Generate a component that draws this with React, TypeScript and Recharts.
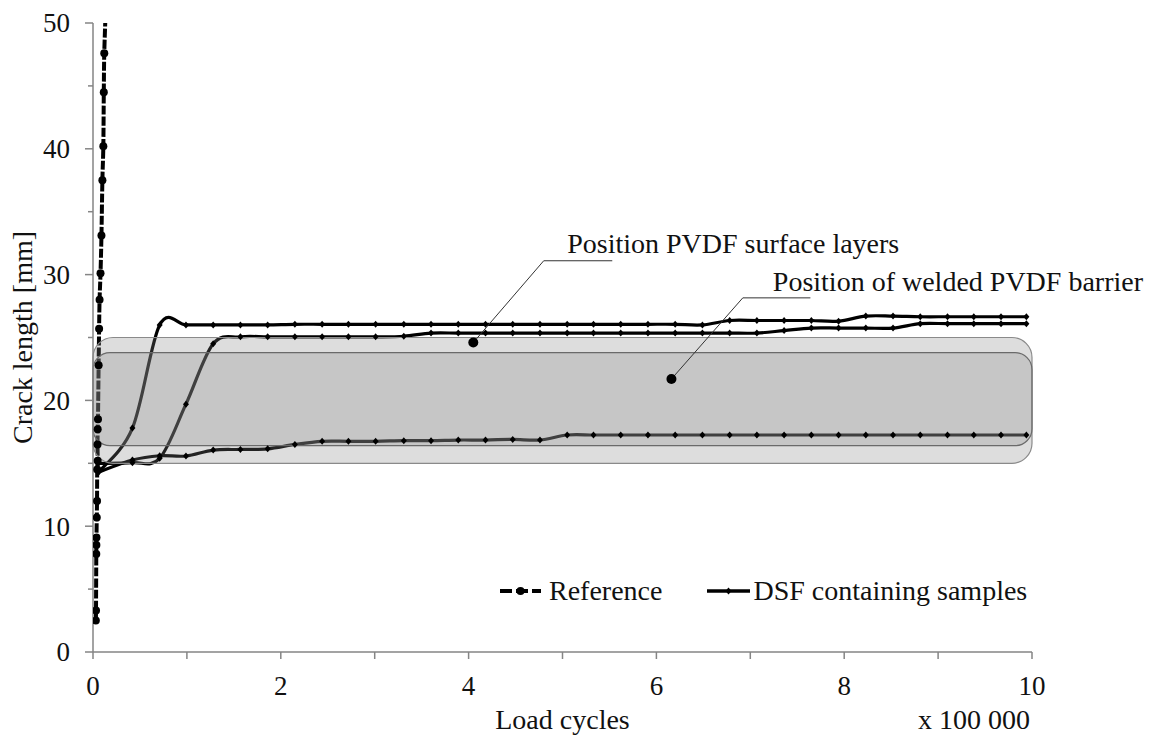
import React from 'react';
import { LineChart, Line, XAxis, YAxis, ReferenceArea, ReferenceLine, ReferenceDot, Legend } from 'recharts';

const FONT = "'Liberation Serif', 'DejaVu Serif', 'Times New Roman', serif";
const AXIS_GREY = '#858585';
const INK = '#111111';

// Reference specimen, load cycles in units of 100 000, crack length in mm
const refCycles = [0.03, 0.032, 0.035, 0.036, 0.037, 0.04, 0.043, 0.045, 0.05, 0.048, 0.05, 0.053, 0.06, 0.065, 0.07, 0.08, 0.09, 0.1, 0.11, 0.115, 0.12, 0.135];
const refCrack = [2.5, 3.3, 7.8, 8.5, 9.1, 10.7, 12.0, 14.5, 15.2, 16.5, 17.7, 18.5, 22.8, 25.7, 28.0, 30.1, 33.1, 37.5, 40.2, 44.5, 47.6, 51];

// DSF samples share the same read-out cycles
const dsfCycles = [0.06, 0.42, 0.71, 0.99, 1.28, 1.57, 1.86, 2.15, 2.44, 2.72, 3.01, 3.31, 3.6, 3.89, 4.18, 4.47, 4.76, 5.05, 5.33, 5.62, 5.91, 6.2, 6.49, 6.78, 7.07, 7.36, 7.65, 7.94, 8.23, 8.52, 8.81, 9.1, 9.38, 9.67, 9.94];
const dsfSampleA = [14.3, 17.8, 26.0, 26.0, 26.0, 26.0, 26.0, 26.05, 26.05, 26.05, 26.05, 26.05, 26.05, 26.05, 26.05, 26.05, 26.05, 26.05, 26.05, 26.05, 26.05, 26.05, 26.0, 26.35, 26.35, 26.35, 26.35, 26.3, 26.7, 26.7, 26.65, 26.65, 26.65, 26.65, 26.65];
const dsfSampleB = [15.0, 15.05, 15.4, 19.7, 24.5, 25.05, 25.05, 25.05, 25.05, 25.05, 25.05, 25.1, 25.35, 25.35, 25.35, 25.35, 25.35, 25.35, 25.35, 25.35, 25.35, 25.35, 25.35, 25.35, 25.35, 25.55, 25.75, 25.75, 25.75, 25.75, 26.1, 26.1, 26.1, 26.1, 26.1];
const dsfSampleC = [14.3, 15.26, 15.6, 15.58, 16.05, 16.1, 16.15, 16.5, 16.75, 16.75, 16.75, 16.8, 16.8, 16.85, 16.85, 16.9, 16.85, 17.25, 17.25, 17.25, 17.25, 17.25, 17.25, 17.25, 17.25, 17.25, 17.25, 17.25, 17.25, 17.25, 17.25, 17.25, 17.25, 17.25, 17.25];

const xTicks = [0, 1, 2, 3, 4, 5, 6, 7, 8, 9, 10];
const yTicks = [0, 5, 10, 15, 20, 25, 30, 35, 40, 45, 50];

// PVDF zones (mm)
const surfaceLayerBand = [15, 25];
const barrierBand = [16.4, 23.8];

const legendLabels = ['Reference', 'DSF containing samples'];

const annotationText = ['Position PVDF surface layers', 'Position of welded PVDF barrier'];
const annotationDot = [[4.05, 24.6], [6.16, 21.7]];
const annotationElbow = [[4.8, 31.1], [6.92, 28.15]];
const annotationLineEnd = [[5.53, 31.1], [7.64, 28.15]];
const annotationTextAt = [[5.05, 31.75], [7.24, 28.7]];

const toPoints = (xs: number[], ys: number[]) => xs.map((c, i) => ({ cycles: c, crack: ys[i] }));
const referenceData = toPoints(refCycles, refCrack);
const sampleA = toPoints(dsfCycles, dsfSampleA);
const sampleB = toPoints(dsfCycles, dsfSampleB);
const sampleC = toPoints(dsfCycles, dsfSampleC);

// catmull-rom style smoothing, close to Excel's "smoothed line"
function smoothCurve(context: any) {
  let pts: number[][] = [];
  return {
    areaStart() {},
    areaEnd() {},
    lineStart() { pts = []; },
    point(x: number, y: number) { pts.push([x, y]); },
    lineEnd() {
      if (!pts.length) return;
      context.moveTo(pts[0][0], pts[0][1]);
      for (let i = 0; i < pts.length - 1; i++) {
        const p0 = pts[i - 1] || pts[i];
        const p1 = pts[i];
        const p2 = pts[i + 1];
        const p3 = pts[i + 2] || p2;
        context.bezierCurveTo(
          p1[0] + (p2[0] - p0[0]) / 6, p1[1] + (p2[1] - p0[1]) / 6,
          p2[0] - (p3[0] - p1[0]) / 6, p2[1] - (p3[1] - p1[1]) / 6,
          p2[0], p2[1],
        );
      }
    },
  };
}

const roundDot = (p: any) => (
  <circle key={`r-${p.index}`} cx={p.cx} cy={p.cy} r={4} fill="#000" />
);

const diamondDot = (p: any) => (
  <path key={`d-${p.index}`} d={`M${p.cx},${p.cy - 3.5}L${p.cx + 3},${p.cy}L${p.cx},${p.cy + 3.5}L${p.cx - 3},${p.cy}Z`} fill="#000" />
);

const band = (fill: string, opacity: number, stroke: string, radius: number) => (p: any) => (
  <rect x={p.x} y={p.y} width={p.width} height={p.height} rx={radius} ry={radius}
    fill={fill} fillOpacity={opacity} stroke={stroke} strokeWidth={1.2} />
);

function CrackTick(props: any) {
  const { x, y, payload } = props;
  const axisX = x + 23;
  const major = payload.value % 10 === 0;
  return (
    <g>
      <line x1={axisX - (major ? 8 : 5)} x2={axisX} y1={y} y2={y} stroke={AXIS_GREY} strokeWidth={1.5} />
      {major && (
        <text x={x} y={y} dy="0.35em" textAnchor="end" fontFamily={FONT} fontSize={27} fill={INK}>
          {payload.value}
        </text>
      )}
    </g>
  );
}

function LegendBox() {
  return (
    <div style={{ display: 'flex', alignItems: 'center', fontFamily: FONT, fontSize: 28, color: INK, lineHeight: '32px', whiteSpace: 'nowrap' }}>
      {legendLabels.map((label, i) => (
        <div key={label} style={{ display: 'flex', alignItems: 'center', marginLeft: i ? 45 : 0 }}>
          <svg width={43} height={16} style={{ marginRight: i ? 3 : 6 }}>
            {i === 0 ? (
              <g>
                <line x1={0} x2={41} y1={8} y2={8} stroke="#000" strokeWidth={4} strokeDasharray="12 4" />
                <circle cx={20.5} cy={8} r={4} fill="#000" />
              </g>
            ) : (
              <g>
                <line x1={0} x2={43} y1={8} y2={8} stroke="#000" strokeWidth={3.5} />
                <path d="M21.5,4.5L24.5,8L21.5,11.5L18.5,8Z" fill="#000" />
              </g>
            )}
          </svg>
          <span>{label}</span>
        </div>
      ))}
    </div>
  );
}

export default function App() {
  return (
    <div style={{ position: 'absolute', left: 0, top: 0, background: '#fff' }}>
      <LineChart width={1155} height={738} margin={{ top: 23, right: 123, bottom: 0, left: 0 }}>
        <XAxis
          type="number"
          dataKey="cycles"
          domain={[0, 10]}
          ticks={xTicks}
          interval={0}
          allowDataOverflow
          height={86}
          tickSize={7}
          tickMargin={17}
          tickFormatter={(v: number) => (v % 2 === 0 ? String(v) : '')}
          tick={{ fontFamily: FONT, fontSize: 27, fill: INK }}
          axisLine={{ stroke: AXIS_GREY, strokeWidth: 1.5 }}
          tickLine={{ stroke: AXIS_GREY, strokeWidth: 1.5 }}
          label={(p: any) => {
            const vb = p.viewBox || { x: 93, y: 652, width: 939, height: 86 };
            return (
              <g>
                <text x={vb.x + vb.width / 2} y={vb.y + 77} textAnchor="middle" fontFamily={FONT} fontSize={28} fill={INK}>Load cycles</text>
                <text x={vb.x + vb.width - 2} y={vb.y + 77} textAnchor="end" fontFamily={FONT} fontSize={28} fill={INK}>x 100 000</text>
              </g>
            );
          }}
        />
        <YAxis
          type="number"
          dataKey="crack"
          domain={[0, 50]}
          ticks={yTicks}
          interval={0}
          allowDataOverflow
          width={93}
          tickSize={8}
          tickMargin={15}
          tickLine={false}
          tick={<CrackTick />}
          axisLine={{ stroke: AXIS_GREY, strokeWidth: 1.5 }}
          label={(p: any) => {
            const vb = p.viewBox || { x: 0, y: 23, width: 93, height: 629 };
            const cy = vb.y + vb.height / 2;
            return (
              <text x={22} y={cy} dy="0.35em" textAnchor="middle" transform={`rotate(-90, 22, ${cy})`} fontFamily={FONT} fontSize={28} fill={INK}>
                Crack length [mm]
              </text>
            );
          }}
        />

        <Line data={referenceData} dataKey="crack" name="Reference" type={smoothCurve as any} stroke="#000" strokeWidth={4} strokeDasharray="9 2" dot={roundDot} activeDot={false} isAnimationActive={false} />
        <Line data={sampleA} dataKey="crack" name="DSF containing samples" type={smoothCurve as any} stroke="#000" strokeWidth={3.2} dot={diamondDot} activeDot={false} isAnimationActive={false} />
        <Line data={sampleB} dataKey="crack" name="DSF sample B" legendType="none" type={smoothCurve as any} stroke="#000" strokeWidth={3.2} dot={diamondDot} activeDot={false} isAnimationActive={false} />
        <Line data={sampleC} dataKey="crack" name="DSF sample C" legendType="none" type={smoothCurve as any} stroke="#000" strokeWidth={3.2} dot={diamondDot} activeDot={false} isAnimationActive={false} />

        <ReferenceArea x1={0} x2={10} y1={surfaceLayerBand[0]} y2={surfaceLayerBand[1]} zIndex={450} ifOverflow="visible"
          shape={band('#808080', 0.27, '#8a8a8a', 20)} />
        <ReferenceArea x1={0} x2={10} y1={barrierBand[0]} y2={barrierBand[1]} zIndex={460} ifOverflow="visible"
          shape={band('#8b8b8b', 0.28, '#6a6a6a', 17)} />

        {annotationText.map((t, i) => (
          <ReferenceLine key={`seg-a-${i}`} zIndex={650} ifOverflow="visible" stroke="#333" strokeWidth={1}
            segment={[{ x: annotationDot[i][0], y: annotationDot[i][1] }, { x: annotationElbow[i][0], y: annotationElbow[i][1] }]} />
        ))}
        {annotationText.map((t, i) => (
          <ReferenceLine key={`seg-b-${i}`} zIndex={650} ifOverflow="visible" stroke="#333" strokeWidth={1}
            segment={[{ x: annotationElbow[i][0], y: annotationElbow[i][1] }, { x: annotationLineEnd[i][0], y: annotationLineEnd[i][1] }]} />
        ))}
        {annotationText.map((t, i) => (
          <ReferenceDot key={`dot-${i}`} x={annotationDot[i][0]} y={annotationDot[i][1]} r={5} fill="#000" stroke="none" zIndex={700} />
        ))}
        {annotationText.map((t, i) => (
          <ReferenceDot key={`txt-${i}`} x={annotationTextAt[i][0]} y={annotationTextAt[i][1]} r={0} zIndex={700}
            shape={(p: any) => (
              <text x={p.cx} y={p.cy} fontFamily={FONT} fontSize={28} fill={INK}>{t}</text>
            )} />
        ))}

        <Legend layout="horizontal" verticalAlign="middle" align="center" content={LegendBox}
          wrapperStyle={{ left: 500, top: 575, width: 600 }} />
      </LineChart>
    </div>
  );
}
